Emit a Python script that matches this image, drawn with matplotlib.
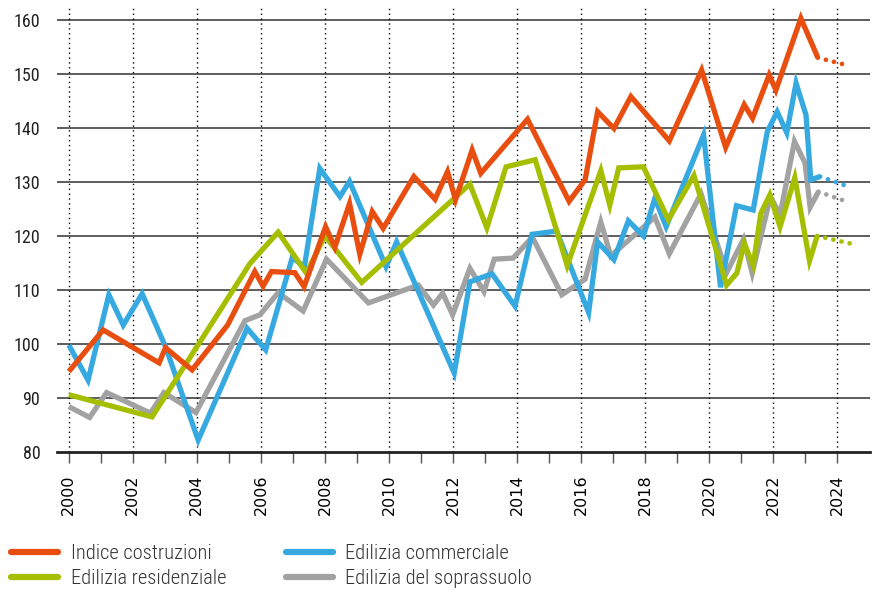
import matplotlib
matplotlib.use("Agg")
import matplotlib.pyplot as plt
from matplotlib import font_manager

# --- data (decimal years) ---
costr_x = [2000.0, 2001.07, 2002.82, 2003.02, 2003.85, 2004.96, 2005.81, 2006.07, 2006.33, 2007.06,
           2007.35, 2008.02, 2008.31, 2008.77, 2009.09, 2009.48, 2009.82, 2010.78, 2011.44, 2011.83,
           2012.08, 2012.60, 2012.87, 2014.33, 2015.63, 2016.13, 2016.52, 2017.03, 2017.56, 2018.76,
           2019.77, 2020.52, 2021.10, 2021.36, 2021.88, 2022.09, 2022.87, 2023.40]
costr_y = [94.9, 102.6, 96.5, 99.3, 95.2, 103.5, 113.4, 110.7, 113.4, 113.2,
           110.6, 121.7, 117.9, 126.0, 116.6, 124.5, 121.4, 131.0, 126.8, 131.9,
           126.7, 135.9, 131.6, 141.6, 126.4, 130.4, 143.0, 139.9, 145.8, 137.6,
           150.7, 136.4, 144.3, 141.8, 149.8, 147.0, 160.3, 153.0]
costr_fx = [2023.40, 2024.38]
costr_fy = [153.0, 151.5]

comm_x = [2000.0, 2000.60, 2001.25, 2001.70, 2002.29, 2003.02, 2004.04, 2005.57, 2006.15, 2006.98,
          2007.36, 2007.84, 2008.47, 2008.77, 2009.91, 2010.24, 2012.04, 2012.53, 2013.22, 2013.94,
          2014.47, 2015.24, 2016.24, 2016.52, 2017.03, 2017.48, 2017.95, 2018.31, 2018.66, 2019.83,
          2020.36, 2020.86, 2021.38, 2021.82, 2022.13, 2022.43, 2022.72, 2023.03, 2023.18, 2023.47]
comm_y = [99.8, 93.3, 109.1, 103.5, 109.3, 99.5, 82.2, 102.9, 98.9, 116.0,
          114.3, 132.5, 127.3, 130.1, 114.3, 118.9, 94.6, 111.5, 113.0, 107.0,
          120.3, 120.9, 105.8, 118.9, 115.6, 122.8, 120.0, 127.0, 121.7, 138.7,
          110.5, 125.6, 124.8, 139.3, 143.0, 139.1, 148.3, 142.4, 130.4, 131.0]
comm_fx = [2023.47, 2024.38]
comm_fy = [131.0, 129.1]

resid_x = [2000.0, 2002.6, 2005.66, 2006.54, 2007.42, 2008.0, 2009.15, 2012.53, 2013.06, 2013.66,
           2014.57, 2015.57, 2016.62, 2016.9, 2017.18, 2017.95, 2018.73, 2019.53, 2020.55, 2020.87,
           2021.10, 2021.38, 2021.62, 2021.9, 2022.22, 2022.68, 2023.14, 2023.38]
resid_y = [90.6, 86.5, 114.9, 120.7, 113.1, 120.0, 111.4, 129.6, 121.5, 132.8,
           134.1, 114.5, 132.1, 125.7, 132.6, 132.8, 123.0, 131.2, 110.9, 113.1,
           118.6, 114.6, 124.2, 127.6, 121.7, 130.8, 115.4, 120.0]
resid_fx = [2023.38, 2024.42]
resid_fy = [120.0, 118.6]

sopra_x = [2000.0, 2000.65, 2001.18, 2002.55, 2002.97, 2003.97, 2005.5, 2005.97, 2006.54, 2007.32,
           2008.05, 2009.36, 2010.92, 2011.39, 2011.68, 2011.99, 2012.53, 2012.97, 2013.29, 2013.88,
           2014.48, 2015.4, 2016.13, 2016.62, 2016.93, 2018.31, 2018.76, 2019.75, 2020.55, 2021.08,
           2021.35, 2021.92, 2022.22, 2022.67, 2023.0, 2023.16, 2023.42]
sopra_y = [88.4, 86.4, 91.0, 87.2, 91.0, 87.3, 104.3, 105.4, 109.5, 106.1,
           115.7, 107.6, 110.9, 107.2, 109.4, 105.4, 114.0, 109.7, 115.7, 115.9,
           119.8, 109.1, 112.0, 122.6, 116.3, 123.5, 116.7, 127.8, 113.2, 119.4,
           113.1, 127.3, 123.9, 137.5, 133.5, 125.3, 128.2]
sopra_fx = [2023.42, 2024.38]
sopra_fy = [128.2, 126.2]

labels = ["Indice costruzioni", "Edilizia residenziale", "Edilizia commerciale", "Edilizia del soprassuolo"]
c_orange = "#e84e0f"
c_green = "#a5bf00"
c_blue = "#36a9e1"
c_gray = "#a2a2a2"

names = {f.name for f in font_manager.fontManager.ttflist}
narrow = "Roboto"
for cand in ["Liberation Sans Narrow", "Roboto Condensed", "Open Sans Condensed"]:
    if cand in names:
        narrow = cand
        break

fig = plt.figure(figsize=(8.73, 5.9), dpi=100)
ax = fig.add_axes([57 / 873, 1 - 452 / 590, 813 / 873, 444 / 590])

for yv in range(90, 161, 10):
    ax.axhline(yv, color="#505050", lw=1.3, zorder=1)
for xv in range(2000, 2025, 2):
    ax.axvline(xv, color="black", lw=1.0, ls=(0, (1, 2.5)), zorder=1)

lw = 3.8
series = [
    (sopra_x, sopra_y, sopra_fx, sopra_fy, c_gray),
    (comm_x, comm_y, comm_fx, comm_fy, c_blue),
    (resid_x, resid_y, resid_fx, resid_fy, c_green),
    (costr_x, costr_y, costr_fx, costr_fy, c_orange),
]
handles = {}
for i, (x, y, fx, fy, c) in enumerate(series):
    ln, = ax.plot(x, y, color=c, lw=lw, solid_joinstyle="miter", solid_capstyle="butt", zorder=3 + i)
    ax.plot(fx, fy, color=c, lw=3.4, ls=(0, (0.01, 1.75)), dash_capstyle="round", zorder=3 + i)
    handles[c] = ln

ax.set_xlim(1999.63, 2025.03)
ax.set_ylim(80, 162.2)
for s in ["top", "right", "left"]:
    ax.spines[s].set_visible(False)
ax.spines["bottom"].set_linewidth(2.0)
ax.spines["bottom"].set_color("#222222")

ax.set_yticks(range(80, 161, 10))
ax.tick_params(axis="y", length=0, pad=12, labelsize=13)
for t in ax.get_yticklabels():
    t.set_fontfamily(narrow)
    t.set_color("#222222")

ax.set_xticks(range(2000, 2025, 2))
ax.set_xticks(range(2001, 2025, 2), minor=True)
ax.set_xticklabels([str(v) for v in range(2000, 2025, 2)], rotation=90, fontsize=11.5, family="DejaVu Sans")
ax.tick_params(axis="x", which="both", length=8, width=1, color="#555555", pad=8)

leg_handles = [handles[c_orange], handles[c_green], handles[c_blue], handles[c_gray]]
leg = fig.legend(leg_handles, labels, loc="upper left", bbox_to_anchor=(11 / 873, 1 - 544 / 590),
                 ncol=2, frameon=False, borderpad=0, borderaxespad=0, handlelength=2.3,
                 handletextpad=0.6, columnspacing=2.9, labelspacing=0.3,
                 prop={"family": narrow, "size": 14.8, "weight": "light"})
for h in leg.get_lines():
    h.set_linewidth(4.5)
    h.set_solid_capstyle("round")
for t in leg.get_texts():
    t.set_color("#333333")

fig.savefig("out.png", dpi=100)
